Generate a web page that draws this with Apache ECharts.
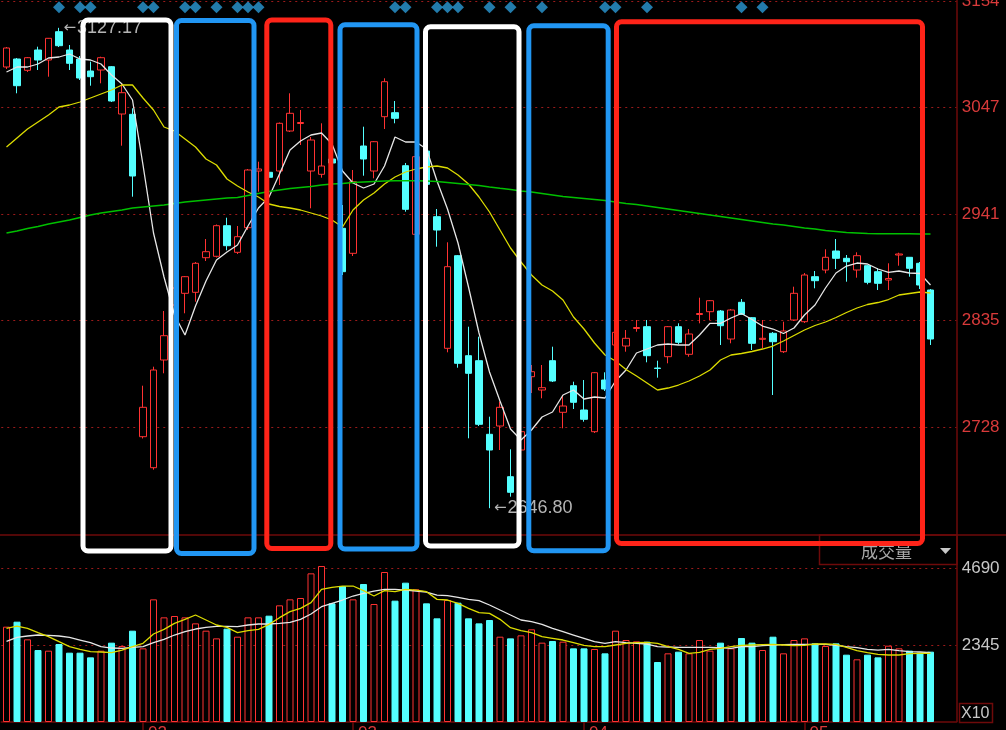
<!DOCTYPE html>
<html><head><meta charset="utf-8">
<script src="https://cdn.jsdelivr.net/npm/echarts@6/dist/echarts.min.js"></script>
<style>html,body{margin:0;padding:0;background:#000;}#c{width:1006px;height:730px;}</style>
</head><body><div id="c"></div>
<script>
// ---------- data ----------
const opens = [3088,3096,3084.7,3105,3095,3123.3,3105,3096,3084,3085,
3088.3,3041,3040.7,2718.3,2687.3,2795,2850,2861.7,2862.7,2897.3,
2898.7,2929.3,2902.7,2927.3,2984,2982.7,2984,3024,3031.5,2984,
2980.7,2996,2926.7,2901.7,3009,2984,3038.3,3042.3,2989.3,2920.7,
3004,2938.3,2806.7,2899.3,2799.3,2794.3,2720.7,2729,2678.3,2705,
2778.3,2765,2794.3,2742.7,2769.3,2745,2723.3,2775,2810,2809,
2826.5,2828.3,2787,2798.3,2828.3,2800.7,2840.5,2843.3,2844,2816,
2852.7,2837.3,2815.7,2821.7,2803.3,2835,2833.3,2878.3,2885,2904,
2896.7,2885,2889.3,2883.3,2875,2900,2897.7,2891.7,2865];
const closes = [3107,3069.3,3097.3,3095,3116.7,3109.3,3091.7,3077,3078.3,3097.3,
3054,3062.3,2979,2747.7,2785,2819.3,2867,2878.3,2891.7,2903.3,
2929.3,2909.3,2918.3,2985,2986,2977.7,3031.7,3041.7,3032.5,3015,
2989,2992,2883.3,2973.3,2996,3013.3,3073.3,3036.7,2945.7,2998.3,
2970.7,2925,2888.3,2791.7,2781.7,2730.7,2705,2747.7,2662.7,2723.3,
2783.3,2767.3,2774,2749,2752.7,2735.7,2782.3,2766,2822.7,2816.7,
2827.5,2799.3,2786.5,2828.3,2812.7,2821,2841.5,2854.3,2829.3,2845,
2840.7,2811.7,2816.7,2813.3,2824,2861.7,2880,2874.3,2897.7,2896.7,
2893.3,2899.3,2872.7,2871.7,2876.5,2901,2886.7,2870,2816];
const lows = [3086,3061.7,3083,3085,3078.3,3108,3085,3075,3069.3,3071.7,
3053,3009.3,2958.3,2716.5,2685.3,2781.7,2845,2841.7,2853.3,2894,
2897.5,2904.7,2901,2925,2963.3,2975,2970,3023,3010,2946.7,
2977.3,2986,2880,2899,2979.3,2976.7,3026,3031.7,2943.3,2919,
2968,2908.3,2802.7,2787.3,2716.7,2729,2646.8,2705,2658.3,2680,
2762,2756.7,2773,2726.7,2746,2733.3,2722,2764,2808,2803.3,
2823.3,2792.7,2777.3,2791.7,2810.7,2798.3,2831.7,2835,2810,2811.7,
2840,2805,2806.7,2760,2802,2834,2832,2866.7,2881.7,2886,
2873.3,2877.3,2870.7,2865,2865,2889.3,2878.3,2866,2810];
const highs = [3108,3097,3098,3108.3,3117,3127.17,3110,3099,3093.3,3098.3,
3089,3071.7,3046.7,2769.3,2788.3,2844,2872,2879,2893,2916,
2930.5,2937.3,2929,2986,2993.3,3000,3032.5,3061.7,3045,3018,
3031.7,3002,2950,2985,3028.3,3014,3076.7,3054,2992,3000,
3006,2946,2912.7,2900,2828.3,2818.3,2738.3,2753.3,2705.7,2730,
2790,2790,2808.3,2760,2773.3,2775,2783,2782.7,2825,2825,
2835,2835,2794.3,2829,2831.7,2826,2857.3,2855,2845,2846,
2856,2838,2835,2823,2833.3,2868.3,2882,2884,2905.7,2916,
2900,2902.7,2890,2887,2891.7,2902.3,2898,2893,2866];
const volumes = [2903,3055,2517,2192,2172,2375,2111,2111,1969,2172,
2416,2314,2781,2243,3735,3187,3228,3187,3004,2781,
2547,2842,2598,3187,3187,3238,3553,3735,3776,4527,
4750,3614,4141,3735,4202,3593,4568,3695,4243,4040,
3614,3157,3715,3634,3157,3004,3106,2598,2547,2639,
2822,2416,2466,2446,2243,2243,2223,2091,2781,2497,
2456,2446,1827,2091,2142,2091,2497,2172,2416,2243,
2558,2416,2192,2598,2091,2497,2547,2395,2314,2395,
2050,1909,2050,1969,2324,2243,2172,2111,2142];
const maWhite = [3083,3088,3088,3091,3097,3098,3101,3096,3095,3091,
3080,3071,3055,2990,2922,2878,2840,2820,2849,2874,
2895,2903,2910,2929,2947,2958,2981,3005,3014,3020,
3022,3011,2984,2972,2967,2971,2989,3018,3013,3013,
3006,2974,2946,2912,2868,2822,2783,2754,2726,2715,
2725,2738,2743,2760,2765,2756,2758,2757,2774,2785,
2802,2806,2810,2811,2810,2810,2820,2831.7,2831.7,2837,
2841.5,2835.5,2829,2826,2821.5,2827,2840,2850,2867,2882,
2889,2892,2891,2886,2882.7,2884,2882,2881.5,2870];
const maYellow = [3008,3017,3026,3033,3040,3048,3050,3053,3057,3061,
3065,3070,3070,3057,3045,3028,3024,3016,3008,2996,
2990,2976,2969,2963,2958,2951,2948.5,2947,2945,2942,
2939,2935,2928,2945,2955,2962,2971,2978,2983,2986,
2988,2989,2987,2980,2971,2958,2943,2925,2907,2893,
2880,2870,2864,2855,2838,2826,2812,2800,2794,2785.5,
2779,2772,2765,2767,2770,2774,2779,2785,2795,2800,
2801.5,2803.5,2806,2809,2814,2819.5,2825,2829.5,2833,2837.5,
2842.5,2847,2850.5,2852.5,2855.5,2860,2861.5,2863,2862];
const maGreen = [2922,2924,2926.5,2928.5,2931,2933,2935,2937.5,2940,2942,
2943.5,2945,2947,2948,2949,2950,2951.5,2953,2954,2955,
2956,2957,2957.5,2959.5,2961.5,2963.5,2965,2966.5,2967.5,2968.5,
2970,2971,2971.5,2972.5,2973,2973.5,2974,2974.3,2974.3,2974.2,
2974,2973.5,2972.5,2971.5,2970.5,2969.5,2968,2966.7,2965.5,2964,
2963,2961.5,2960,2958.5,2957.5,2956.5,2955.5,2954.5,2953,2951.5,
2950.5,2949,2947.5,2946,2944.5,2943,2941.5,2940,2938.5,2937,
2935.5,2934,2932.5,2931,2930,2928.5,2927,2926,2924.5,2923.5,
2922.5,2922,2921.5,2921.3,2921.3,2921.3,2921.2,2921,2921];
const volMaWhite = [2456,2578,2619,2649,2639,2619,2578,2497,2416,2294,
2253,2243,2274,2294,2416,2517,2649,2751,2832,2883,
2913,2913,2903,2954,2984,2984,3004,3035,3126,3289,
3512,3613,3715,3837,3918,3989,4040,4040,4019,3989,
3959,3867,3847,3796,3735,3695,3563,3410,3258,3106,
3055,2974,2852,2751,2649,2548,2446,2395,2446,2416,
2395,2375,2294,2284,2274,2274,2274,2274,2263,2243,
2294,2294,2324,2345,2355,2365,2365,2365,2365,2335,
2294,2263,2213,2192,2213,2172,2142,2132,2111];
const volMaYellow = [2852,2923,2852,2720,2598,2446,2294,2213,2142,2132,
2111,2192,2294,2395,2680,2822,3004,3126,3258,3106,
2954,2883,2720,2781,2822,2974,3177,3360,3461,3634,
4040,4101,4141,4141,3999,3837,3999,3969,4040,4019,
3969,3735,3715,3613,3461,3329,3309,3126,2872,2781,
2720,2598,2548,2497,2416,2335,2294,2294,2345,2395,
2416,2426,2395,2294,2213,2091,2121,2213,2243,2294,
2335,2345,2355,2365,2345,2324,2335,2375,2375,2365,
2274,2172,2111,2060,2040,2040,2081,2091,2091];
const signalIdx = [5,7,8,13,14,17,18,20,22,23,24,37,38,41,42,43,46,48,51,57,58,61,70,72];
const monthTickIdx = [13,33,55,76];
const monthTickLabels = ['02','03','04','05'];
const priceTickLabels = [2728,2835,2941,3047,3154];
const volTickLabels = [2345,4690];
const categories = opens.map((_, i) => String(i)).concat(['', '']);

// ---------- chart ----------
const RED = '#ff3232', CYAN = '#54ffff', DARKRED = '#6e0a0a', GRIDDOT = '#9a1a1a';
const hiIdx = highs.indexOf(Math.max(...highs));
const loIdx = lows.indexOf(Math.min(...lows));
const candleData = opens.map((o, i) => [o, closes[i], lows[i], highs[i]]);
const volData = volumes.map((v, i) => ({
  value: v,
  itemStyle: closes[i] >= opens[i]
    ? { color: '#000', borderColor: RED, borderWidth: 1 }
    : { color: CYAN, borderColor: CYAN, borderWidth: 1 }
}));
const SIGNAL_LEVEL = 3147.7;
const fontFam = 'Liberation Sans, Arial, sans-serif';

const chart = echarts.init(document.getElementById('c'), null, { renderer: 'canvas' });
const lineS = (name, data, color, w, xi, yi) => ({
  name, type: 'line', data, xAxisIndex: xi, yAxisIndex: yi, symbol: 'none',
  lineStyle: { color, width: w }, silent: true, z: 3
});
const boxes = [
  { x: 83, y: 20, w: 88, h: 531, c: '#ffffff' },
  { x: 176.5, y: 20.5, w: 77.5, h: 533, c: '#2196f3' },
  { x: 266.8, y: 20, w: 64, h: 528.5, c: '#ff2419' },
  { x: 340, y: 24.8, w: 77, h: 524.2, c: '#2196f3' },
  { x: 425.5, y: 26.7, w: 93.5, h: 519.3, c: '#ffffff' },
  { x: 528.8, y: 25.8, w: 79.4, h: 525, c: '#2196f3' },
  { x: 616.5, y: 21.7, w: 306, h: 521.8, c: '#ff2419' }
];
const graphics = [
  { type: 'line', shape: { x1: 0, y1: 535, x2: 1006, y2: 535 }, style: { stroke: DARKRED, lineWidth: 1.5 }, z: 50 },
  { type: 'line', shape: { x1: 957, y1: 0, x2: 957, y2: 722 }, style: { stroke: DARKRED, lineWidth: 1.5 }, z: 50 },
  { type: 'rect', shape: { x: 819.5, y: 535, width: 137.5, height: 29.5 }, style: { fill: 'none', stroke: DARKRED, lineWidth: 1.5 }, z: 50 },
  { type: 'text', x: 861, y: 552, style: { text: '成交量', fill: '#a8a8a8', font: '17px "Noto Sans CJK SC"', verticalAlign: 'middle' }, z: 50 },
  { type: 'polygon', shape: { points: [[940, 548], [951, 548], [945.5, 554]] }, style: { fill: '#c8c8c8' }, z: 50 },
  { type: 'rect', shape: { x: 959.5, y: 703.5, width: 33, height: 19 }, style: { fill: 'none', stroke: DARKRED, lineWidth: 1.5 }, z: 50 },
  { type: 'text', x: 961, y: 713.5, style: { text: 'X10', fill: '#c8c8c8', font: '16px ' + fontFam, verticalAlign: 'middle' }, z: 50 }
].concat(boxes.map(b => ({
  type: 'rect', shape: { x: b.x, y: b.y, width: b.w, height: b.h, r: 5 },
  style: { fill: 'none', stroke: b.c, lineWidth: 5 }, z: 100
})));

chart.setOption({
  backgroundColor: '#000',
  animation: false,
  grid: [
    { left: 1.25, top: 1, width: 955.5, height: 532.5, containLabel: false, outerBoundsMode: 'none' },
    { left: 1.25, top: 568, width: 955.5, height: 154, containLabel: false, outerBoundsMode: 'none' }
  ],
  xAxis: [
    { type: 'category', gridIndex: 0, data: categories, boundaryGap: true, show: false },
    { type: 'category', gridIndex: 1, data: categories, boundaryGap: true,
      axisLine: { show: true, lineStyle: { color: DARKRED, width: 1.5 } },
      axisTick: { show: true, alignWithLabel: true, length: 8, inside: false,
        interval: (i) => monthTickIdx.includes(i), lineStyle: { color: DARKRED, width: 1.5 } },
      axisLabel: { show: true, interval: (i) => monthTickIdx.includes(i), margin: 3,
        align: 'left', padding: [0, 0, 0, 5], color: '#d83a3a', fontSize: 17, fontFamily: fontFam,
        formatter: (v, i) => { const k = monthTickIdx.indexOf(i); return k >= 0 ? monthTickLabels[k] : ''; } },
      splitLine: { show: false } }
  ],
  yAxis: [
    { type: 'value', gridIndex: 0, position: 'right', min: 2621.5, max: 3154, interval: 106.5, scale: true,
      axisLine: { show: false }, axisTick: { show: false },
      axisLabel: { color: '#d83a3a', fontSize: 17, fontFamily: fontFam, margin: 5,
        formatter: (v) => { const m = priceTickLabels.find(t => Math.abs(t - v) < 1.5); return m ? String(m) : ''; } },
      splitLine: { show: true, showMinLine: false, lineStyle: { color: GRIDDOT, type: [2, 4], width: 1 } } },
    { type: 'value', gridIndex: 1, position: 'right', min: 0, max: 4690, interval: 2345,
      axisLine: { show: false }, axisTick: { show: false },
      axisLabel: { color: '#c8c8c8', fontSize: 17, fontFamily: fontFam, margin: 5,
        formatter: (v) => { const m = volTickLabels.find(t => Math.abs(t - v) < 1); return m ? String(m) : ''; } },
      splitLine: { show: true, showMinLine: false, lineStyle: { color: GRIDDOT, type: [2, 4], width: 1 } } }
  ],
  graphic: graphics,
  series: [
    { name: 'K', type: 'candlestick', xAxisIndex: 0, yAxisIndex: 0, data: candleData, barWidth: 7,
      itemStyle: { color: '#000', color0: CYAN, borderColor: RED, borderColor0: CYAN, borderWidth: 1 },
      markPoint: {
        symbol: 'circle', symbolSize: 1, itemStyle: { color: 'rgba(0,0,0,0)' },
        label: { show: true, position: 'right', distance: 4,
          formatter: (p) => '{a|←}{b|' + p.value.toFixed(2) + '}',
          rich: { a: { fontSize: 15, color: '#b4b4b4', fontFamily: 'DejaVu Sans', padding: [0, 1, 0, 0] },
                  b: { fontSize: 18, color: '#b4b4b4', fontFamily: fontFam } } },
        data: [ { coord: [hiIdx, highs[hiIdx]], value: highs[hiIdx] },
                { coord: [loIdx, lows[loIdx]], value: lows[loIdx] } ]
      } },
    lineS('MA白', maWhite, '#e6e6e6', 1.3, 0, 0),
    lineS('MA黄', maYellow, '#dcdc00', 1.3, 0, 0),
    lineS('MA绿', maGreen, '#00c000', 1.6, 0, 0),
    { name: 'signal', type: 'scatter', xAxisIndex: 0, yAxisIndex: 0, symbol: 'diamond', symbolSize: 12,
      data: signalIdx.map(i => [i, SIGNAL_LEVEL]), itemStyle: { color: '#2a9ad6' }, silent: true },
    { name: '成交量', type: 'bar', xAxisIndex: 1, yAxisIndex: 1, data: volData, barWidth: 7, clip: false },
    lineS('VMA白', volMaWhite, '#e6e6e6', 1.3, 1, 1),
    lineS('VMA黄', volMaYellow, '#dcdc00', 1.3, 1, 1)
  ]
});
</script></body></html>
